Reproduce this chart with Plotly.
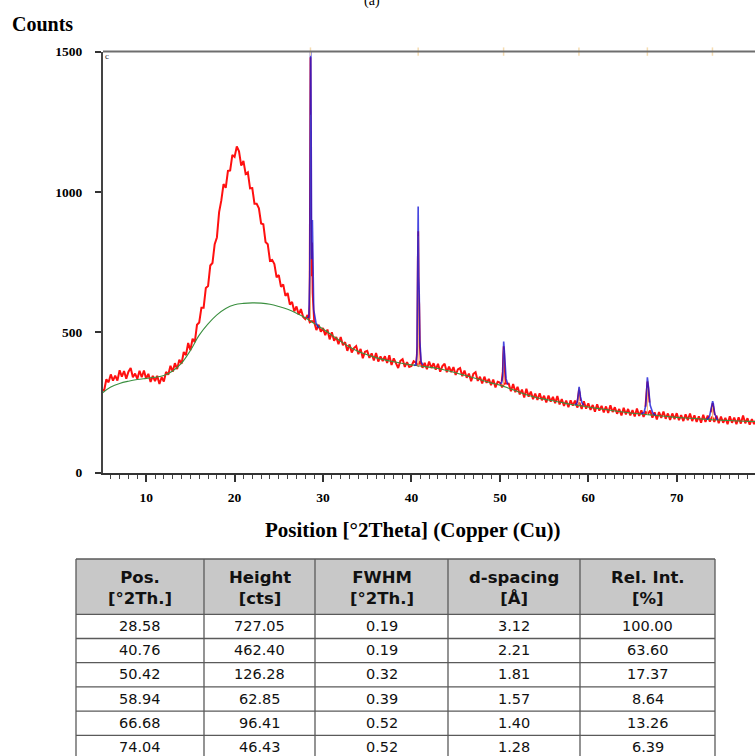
import plotly.graph_objects as go

# ---- measured pattern: counts every 0.25 deg 2theta, starting at 5.00 ----
theta_start = 5.0
theta_step = 0.25
counts = [
    295, 293, 333, 322,      # 5
    350, 328, 346, 328,      # 6
    365, 342, 362, 335,      # 7
    360, 373, 340, 353,      # 8
    334, 363, 340, 364,      # 9
    335, 352, 323, 345,      # 10
    326, 345, 316, 340,      # 11
    325, 359, 349, 381,      # 12
    360, 390, 369, 402,      # 13
    388, 430, 419, 462,      # 14
    436, 477, 465, 527,      # 15
    535, 588, 588, 658,      # 16
    665, 738, 747, 814,      # 17
    838, 928, 970, 1028,     # 18
    1015, 1075, 1077, 1132,  # 19
    1125, 1162, 1145, 1094,  # 20
    1111, 1064, 1070, 1013,  # 21
    1014, 958, 958, 942,     # 22
    888, 885, 822, 814,      # 23
    755, 758, 743, 696,      # 24
    704, 662, 671, 630,      # 25
    640, 599, 608, 575,      # 26
    592, 563, 583, 555,      # 27
    547, 562, 536, 540,      # 28
    537, 508, 527, 502,      # 29
    515, 490, 510, 475,      # 30
    500, 470, 483, 458,      # 31
    483, 454, 465, 434,      # 32
    457, 428, 444, 451,      # 33
    422, 441, 408, 431,      # 34
    434, 409, 425, 400,      # 35
    426, 396, 414, 398,      # 36
    415, 391, 418, 384,      # 37
    407, 387, 373, 398,      # 38
    404, 377, 394, 377,      # 39
    380, 397, 392, 382,      # 40
    397, 374, 391, 369,      # 41
    396, 373, 390, 367,      # 42
    388, 360, 380, 388,      # 43
    358, 378, 358, 376,      # 44
    348, 368, 373, 344,      # 45
    364, 338, 353, 326,      # 46
    352, 358, 327, 342,      # 47
    318, 342, 320, 334,      # 48
    312, 332, 304, 324,      # 49
    321, 304, 318, 318,      # 50
    317, 290, 316, 287,      # 51
    306, 279, 296, 268,      # 52
    299, 271, 289, 262,      # 53
    282, 259, 283, 258,      # 54
    274, 250, 275, 253,      # 55
    270, 248, 273, 243,      # 56
    262, 238, 257, 233,      # 57
    258, 239, 257, 232,      # 58
    250, 227, 254, 228,      # 59
    247, 224, 241, 217,      # 60
    244, 221, 238, 215,      # 61
    236, 213, 240, 216,      # 62
    233, 210, 227, 204,      # 63
    231, 208, 227, 204,      # 64
    223, 200, 229, 202,      # 65
    222, 199, 216, 210,      # 66
    221, 196, 215, 190,      # 67
    216, 195, 218, 192,      # 68
    211, 188, 211, 191,      # 69
    212, 187, 205, 184,      # 70
    208, 187, 211, 184,      # 71
    204, 181, 201, 178,      # 72
    206, 181, 203, 182,      # 73
    200, 181, 203, 176,      # 74
    200, 178, 195, 173,      # 75
    201, 178, 196, 173,      # 76
    197, 175, 204, 176,      # 77
    194, 171, 191, 173,      # 78
    192,                     # 79
]

# ---- fitted background, one value per degree from 5 to 79 ----
bg_start = 5
background = [
    283, 305, 318, 326, 332, 336, 340, 346, 362, 390,   # 5-14
    435, 490, 530, 562, 585, 598, 603, 605, 604, 600,   # 15-24
    592, 582, 568, 552, 532, 512, 490, 468, 448, 432,   # 25-34
    420, 410, 402, 395, 389, 384, 380, 376, 371, 364,   # 35-44
    356, 347, 338, 329, 320, 312, 301, 289, 278, 269,   # 45-54
    262, 256, 250, 244, 239, 234, 229, 225, 220, 216,   # 55-64
    212, 209, 206, 203, 200, 197, 195, 193, 191, 189,   # 65-74
    187, 186, 184, 183, 182,                            # 75-79
]

# ---- peak list ----
peak_pos = [28.58, 40.76, 50.42, 58.94, 66.68, 74.04]
peak_height = [727.05, 462.40, 126.28, 62.85, 96.41, 46.43]
peak_fwhm = [0.19, 0.19, 0.32, 0.39, 0.52, 0.52]
peak_d = [3.12, 2.21, 1.81, 1.57, 1.40, 1.28]
peak_rel = [100.00, 63.60, 17.37, 8.64, 13.26, 6.39]
peak_base = [548, 380, 312, 240, 207, 189]

# measured counts across each reflection
peak_obs_x = [
    [28.40, 28.48, 28.54, 28.58, 28.62, 28.68, 28.76, 28.82, 28.90, 29.00],
    [40.55, 40.66, 40.72, 40.77, 40.82, 40.88, 40.95, 41.05],
    [50.20, 50.32, 50.38, 50.43, 50.48, 50.55, 50.65],
    [58.75, 58.85, 58.94, 59.02, 59.12],
    [66.45, 66.58, 66.68, 66.78, 66.92],
    [73.85, 73.97, 74.06, 74.16, 74.30],
]
peak_obs_y = [
    [545, 600, 1100, 1480, 1150, 700, 820, 640, 560, 535],
    [390, 450, 760, 860, 640, 600, 450, 390],
    [325, 360, 420, 450, 430, 370, 320],
    [250, 275, 295, 285, 255],
    [235, 300, 325, 305, 250],
    [215, 240, 248, 232, 205],
]

# calculated profile around each reflection
fit_x = [
    [28.20, 28.40, 28.50, 28.55, 28.60, 28.65, 28.72, 28.80, 28.86, 28.95, 29.20, 29.50],
    [40.30, 40.50, 40.62, 40.70, 40.76, 40.82, 40.88, 40.95, 41.10, 41.30],
    [50.00, 50.20, 50.32, 50.38, 50.43, 50.50, 50.56, 50.70, 50.90],
    [58.50, 58.70, 58.82, 58.90, 58.96, 59.04, 59.12, 59.30, 59.50],
    [66.00, 66.30, 66.50, 66.60, 66.68, 66.76, 66.86, 67.00, 67.30, 67.60],
    [73.40, 73.70, 73.90, 74.00, 74.06, 74.14, 74.30, 74.60],
]
fit_y = [
    [552, 555, 700, 1300, 1650, 1300, 760, 900, 760, 580, 535, 515],
    [382, 385, 420, 720, 948, 700, 640, 470, 395, 384],
    [318, 320, 345, 420, 467, 437, 400, 335, 314],
    [243, 246, 265, 295, 306, 290, 270, 248, 240],
    [210, 215, 240, 300, 340, 318, 290, 240, 212, 205],
    [190, 200, 230, 250, 255, 245, 210, 188],
]

# ---- table text ----
table_header = ["Pos.<br>[°2Th.]", "Height<br>[cts]", "FWHM<br>[°2Th.]",
                "d-spacing<br>[Å]", "Rel. Int.<br>[%]"]
table_columns = [peak_pos, peak_height, peak_fwhm, peak_d, peak_rel]

# ---- page geometry (pixels) ----
W, H = 755, 756
x_left_px, y_top_px, y_bot_px = 103, 51.6, 472.7
col_edges = [76, 204, 315, 448, 580, 715]
tbl_top, head_h, row_h = 559, 55.3, 24.2


def px(x):
    return x / W


def py(y):
    return 1 - y / H


theta = [theta_start + theta_step * i for i in range(len(counts))]
bg_theta = [bg_start + i for i in range(len(background))]

RED = "#ff1010"
SERIF = "Liberation Serif"
SANS = "DejaVu Sans"

fig = go.Figure()

fig.add_trace(go.Scatter(x=theta, y=counts, mode="lines",
                         line=dict(color=RED, width=2.0), hoverinfo="skip"))
for ox, oy in zip(peak_obs_x, peak_obs_y):
    fig.add_trace(go.Scatter(x=ox, y=oy, mode="lines",
                             line=dict(color=RED, width=1.8), hoverinfo="skip"))

fig.add_trace(go.Scatter(x=bg_theta, y=background, mode="lines",
                         line=dict(color="#3a8f3f", width=1.1, shape="spline"),
                         hoverinfo="skip"))

# peak sticks from background up to the listed height
for pos, h, b in zip(peak_pos, peak_height, peak_base):
    fig.add_trace(go.Scatter(x=[pos, pos], y=[b, b + h], mode="lines",
                             line=dict(color="#f6b36e", width=1), hoverinfo="skip"))

for fx, fy in zip(fit_x, fit_y):
    fig.add_trace(go.Scatter(x=fx, y=fy, mode="lines",
                             line=dict(color="rgba(25,25,215,0.8)", width=1.6),
                             hoverinfo="skip"))

# reference markers along the top frame
fig.add_trace(go.Scatter(x=peak_pos, y=[1500] * len(peak_pos), mode="markers",
                         marker=dict(symbol="line-ns", size=6,
                                     line=dict(color="#f5dcb2", width=1.5)),
                         cliponaxis=False, hoverinfo="skip"))

tickfont = dict(family=SERIF, size=13.5, color="black", weight="bold")

# ---- table drawn as shapes and text ----
n_rows = len(peak_pos)
row_tops = [tbl_top + head_h + row_h * i for i in range(n_rows)]
shapes = [
    dict(type="line", xref="x domain", yref="y domain", x0=0, x1=1, y0=1, y1=1,
         line=dict(color="#6e6e6e", width=2)),
    dict(type="rect", xref="paper", yref="paper",
         x0=px(col_edges[0]), x1=px(col_edges[-1]),
         y0=py(tbl_top), y1=py(tbl_top + head_h),
         fillcolor="#c8c8c8", line=dict(width=0), layer="below"),
]
for yy in [tbl_top, tbl_top + head_h] + [t + row_h for t in row_tops]:
    shapes.append(dict(type="line", xref="paper", yref="paper",
                       x0=px(col_edges[0]), x1=px(col_edges[-1]),
                       y0=py(yy), y1=py(yy),
                       line=dict(color="#5a5a5a", width=1.3)))
for xx in col_edges:
    shapes.append(dict(type="line", xref="paper", yref="paper",
                       x0=px(xx), x1=px(xx), y0=py(tbl_top), y1=py(H + 10),
                       line=dict(color="#5a5a5a", width=1.3)))

annotations = [
    dict(text="Counts", x=px(10), y=py(24), xref="paper", yref="paper",
         xanchor="left", yanchor="middle", showarrow=False,
         font=dict(family=SERIF, size=20, color="black", weight="bold")),
    dict(text="Position [°2Theta] (Copper (Cu))", x=px(413), y=py(530),
         xref="paper", yref="paper", xanchor="center", yanchor="middle",
         showarrow=False,
         font=dict(family=SERIF, size=21, color="black", weight="bold")),
    dict(text="(a)", x=px(372), y=py(0.5), xref="paper", yref="paper",
         xanchor="center", yanchor="middle", showarrow=False,
         font=dict(family=SERIF, size=14, color="black")),
    dict(text="c", x=px(107), y=py(56), xref="paper", yref="paper",
         xanchor="center", yanchor="middle", showarrow=False,
         font=dict(family=SERIF, size=9, color="#333333")),
]
for j, head in enumerate(table_header):
    cx = (col_edges[j] + col_edges[j + 1]) / 2
    annotations.append(dict(
        text=head, x=px(cx), y=py(tbl_top + head_h / 2 + 1), xref="paper", yref="paper",
        xanchor="center", yanchor="middle", align="center", showarrow=False,
        font=dict(family=SANS, size=16.5, color="#111111", weight="bold")))
    for i, val in enumerate(table_columns[j]):
        annotations.append(dict(
            text=f"{val:.2f}", x=px(cx), y=py(row_tops[i] + row_h / 2 - 0.5),
            xref="paper", yref="paper", xanchor="center", yanchor="middle",
            showarrow=False,
            font=dict(family=SANS, size=14.5, color="#111111")))

fig.update_layout(
    width=W, height=H,
    margin=dict(l=0, r=0, t=0, b=0, autoexpand=False),
    paper_bgcolor="white", plot_bgcolor="white",
    showlegend=False,
    xaxis=dict(
        domain=[px(x_left_px), 1],
        range=[5.12, 78.85],
        automargin=False,
        tickvals=[10, 20, 30, 40, 50, 60, 70],
        ticks="outside", ticklen=7, tickwidth=1.5, tickcolor="#333333",
        minor=dict(dtick=1, tick0=0, ticks="outside", ticklen=4,
                   tickwidth=1, tickcolor="#444444"),
        showline=True, linecolor="#333333", linewidth=2,
        showgrid=False, zeroline=False,
        tickfont=tickfont, ticklabelstandoff=4,
    ),
    yaxis=dict(
        domain=[py(y_bot_px), py(y_top_px)],
        range=[0, 1500],
        automargin=False,
        tickvals=[0, 500, 1000, 1500],
        ticks="outside", ticklen=6, tickwidth=1.5, tickcolor="#333333",
        showline=True, linecolor="#444444", linewidth=2,
        showgrid=False, zeroline=False,
        tickfont=tickfont, ticklabelstandoff=10,
    ),
    shapes=shapes,
    annotations=annotations,
)

fig.write_html("out.html")
